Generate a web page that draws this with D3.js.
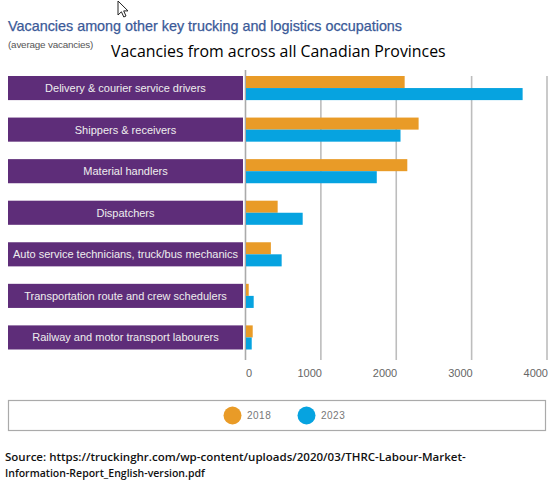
<!DOCTYPE html>
<html><head><meta charset="utf-8">
<script src="https://cdn.jsdelivr.net/npm/d3@7"></script>
<style>body{margin:0;background:#fff}svg{display:block}</style>
</head><body>
<svg id="chart" width="549" height="483"></svg>
<script>
const categories = [
  "Delivery & courier service drivers",
  "Shippers & receivers",
  "Material handlers",
  "Dispatchers",
  "Auto service technicians, truck/bus mechanics",
  "Transportation route and crew schedulers",
  "Railway and motor transport labourers"
];
const seriesNames = ["2018", "2023"];
const values2018 = [2105, 2290, 2140, 420, 330, 36, 89];
const values2023 = [3670, 2050, 1735, 752, 473, 102, 76];
const tickValues = [0, 1000, 2000, 3000, 4000];
const colors = ["#E99B27", "#06A3E0"];

const svg = d3.select("#chart");

function fitText(sel, w) {
  const n = sel.node();
  const fs = parseFloat(sel.attr("font-size"));
  const len = n.getComputedTextLength();
  sel.attr("font-size", (fs * w / len).toFixed(2));
}

// cursor artifact
svg.append("path")
  .attr("transform", "translate(118,1)")
  .attr("d", "M0,0 L0,14 L3.4,10.8 L5.8,16 L8,15 L5.7,9.9 L10,9.9 Z")
  .attr("fill", "#fff").attr("stroke", "#222").attr("stroke-width", 1);

// titles
fitText(svg.append("text").attr("x", 8).attr("y", 31)
  .attr("font-family", "Liberation Sans, Arial, sans-serif").attr("font-size", 13)
  .attr("fill", "#3B5A98").attr("stroke", "#3B5A98").attr("stroke-width", 0.25)
  .text("Vacancies among other key trucking and logistics occupations"), 394);

fitText(svg.append("text").attr("x", 8).attr("y", 48)
  .attr("font-family", "Liberation Sans, Arial, sans-serif").attr("font-size", 9)
  .attr("fill", "#555").attr("letter-spacing", -0.2)
  .text("(average vacancies)"), 85);

fitText(svg.append("text").attr("x", 111).attr("y", 57)
  .attr("font-family", "'Open Sans', Lato, sans-serif").attr("font-size", 17)
  .attr("fill", "#000")
  .text("Vacancies from across all Canadian Provinces"), 335);

// scales
const x = d3.scaleLinear().domain([0, 4000]).range([245.5, 547]);
const y = d3.scaleBand().domain(categories).range([76, 349.5]).paddingInner(0.42).paddingOuter(0);
const ySub = d3.scaleBand().domain(seriesNames).range([0, y.bandwidth()]);

// gridlines
const grid = svg.append("g");
grid.selectAll("line").data(tickValues).join("line")
  .attr("x1", d => x(d)).attr("x2", d => x(d))
  .attr("y1", d => d === 0 ? 70 : 76).attr("y2", 360)
  .attr("stroke", d => d === 0 ? "#aaa" : "#bdbdbd").attr("stroke-width", 1.6);

// label boxes
const rows = svg.append("g").selectAll("g").data(categories).join("g")
  .attr("transform", d => `translate(0,${y(d)})`);
rows.append("rect").attr("x", 8).attr("width", 235).attr("height", y.bandwidth()).attr("fill", "#5E2D79");
rows.append("text").attr("x", 125.5).attr("y", y.bandwidth() / 2 + 4)
  .attr("text-anchor", "middle").attr("fill", "#eee")
  .attr("font-family", "Liberation Sans, Arial, sans-serif").attr("font-size", 11)
  .text(d => d);

// bars
const data = categories.map((c, i) => ({ c, vals: [values2018[i], values2023[i]] }));
const bars = svg.append("g").selectAll("g").data(data).join("g")
  .attr("transform", d => `translate(0,${y(d.c)})`);
bars.selectAll("rect").data(d => d.vals.map((v, j) => ({ v, s: seriesNames[j], j }))).join("rect")
  .attr("x", x(0) + 0.5).attr("y", d => ySub(d.s))
  .attr("width", d => x(d.v) - x(0)).attr("height", ySub.bandwidth())
  .attr("fill", d => colors[d.j]);

// axis
const axis = d3.axisBottom(x).tickValues(tickValues).tickSize(0).tickPadding(0).tickFormat(d3.format("d"));
const ax = svg.append("g").attr("transform", "translate(0,369)").call(axis);
ax.select(".domain").remove();
ax.selectAll("text").attr("font-family", "Liberation Sans, Arial, sans-serif").attr("font-size", 11)
  .attr("fill", "#666").attr("dy", "0.71em")
  .attr("text-anchor", d => d === 0 ? "start" : "end")
  .attr("x", d => d === 0 ? 0 : 0.5);

// legend
svg.append("rect").attr("x", 8.5).attr("y", 400.5).attr("width", 537).attr("height", 30)
  .attr("fill", "#fff").attr("stroke", "#aaa").attr("stroke-width", 1.2);
const leg = svg.append("g").selectAll("g").data(seriesNames).join("g")
  .attr("transform", (d, i) => `translate(${232.5 + i * 74},415.5)`);
leg.append("circle").attr("r", 9).attr("fill", (d, i) => colors[i]);
leg.append("text").attr("x", 14.5).attr("y", 3.5)
  .attr("font-family", "Liberation Sans, Arial, sans-serif").attr("font-size", 10)
  .attr("fill", "#777").attr("letter-spacing", 0.5).text(d => d);

// source
fitText(svg.append("text").attr("x", 5).attr("y", 461)
  .attr("font-family", "'Open Sans', Lato, sans-serif").attr("font-weight", 600).attr("font-size", 11)
  .attr("fill", "#111")
  .text("Source: https://truckinghr.com/wp-content/uploads/2020/03/THRC-Labour-Market-"), 461);
fitText(svg.append("text").attr("x", 5).attr("y", 477)
  .attr("font-family", "'Open Sans', Lato, sans-serif").attr("font-weight", 600).attr("font-size", 11)
  .attr("fill", "#111")
  .text("Information-Report_English-version.pdf"), 200);
</script>
</body></html>
